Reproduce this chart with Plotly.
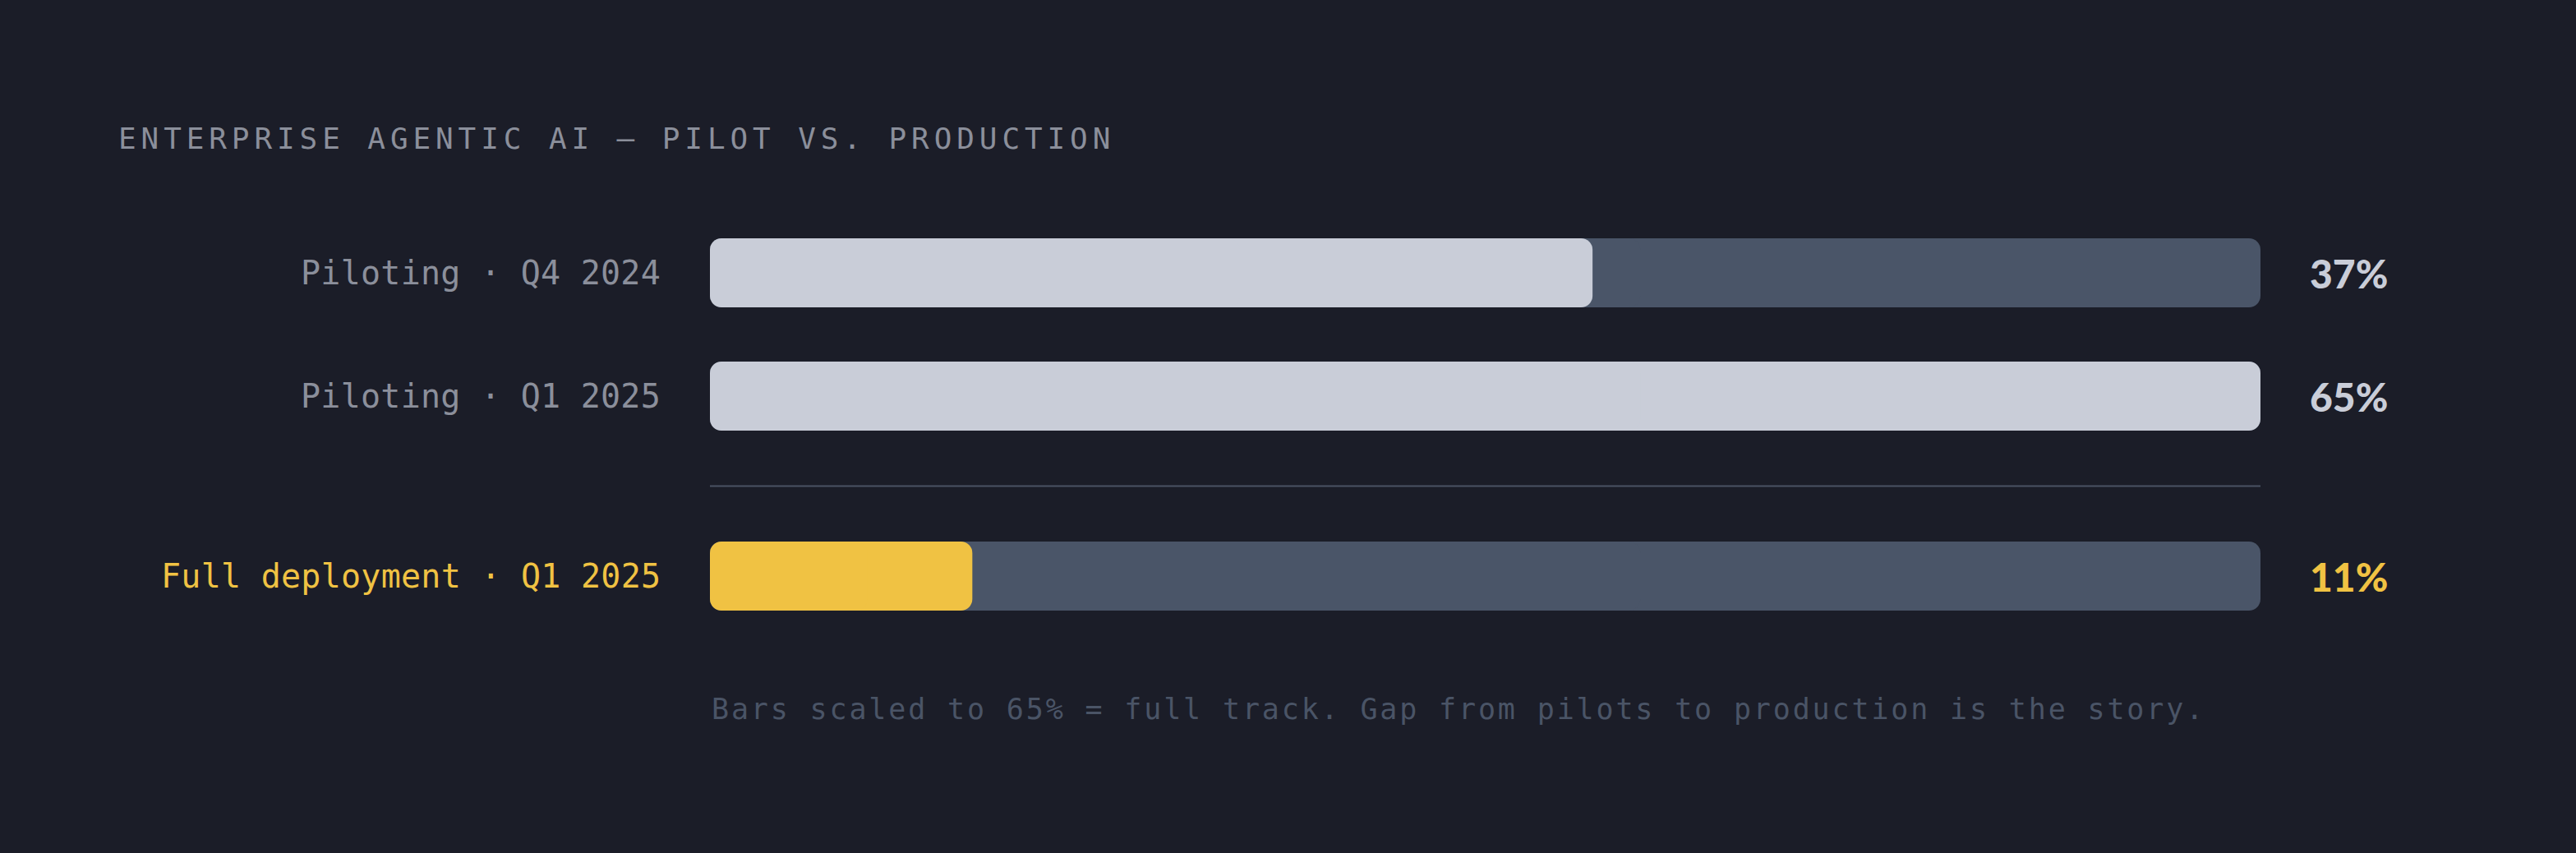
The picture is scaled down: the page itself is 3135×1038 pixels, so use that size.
import plotly.graph_objects as go

# data
labels = ["Piloting · Q4 2024", "Piloting · Q1 2025", "Full deployment · Q1 2025"]
values = [37, 65, 11]
value_text = ["37%", "65%", "11%"]
scale_max = 65  # 65% = full track
title = "ENTERPRISE AGENTIC AI — PILOT VS. PRODUCTION"
note = "Bars scaled to 65% = full track. Gap from pilots to production is the story."

# styling
BG = "#1b1d28"
TRACK = "#4a5568"
LIGHT = "#c9cdd8"
YELLOW = "#f0c243"
GREY = "#8b8f9b"
MONO = "DejaVu Sans Mono, Liberation Mono, monospace"

fill_colors = [LIGHT, LIGHT, YELLOW]
label_colors = [GREY, GREY, YELLOW]
row_y = [0, 1, 2.46]   # row centres (1 unit = 150px)
bar_w = 0.56
sep_y = 1.73


def pill(fig, y, vals, color):
    # two overlapping bars, each rounded at its far end -> rounded on both sides
    fig.add_trace(go.Bar(
        orientation="h", y=y, base=[v * 0.4 for v in vals], x=[v * 0.6 for v in vals],
        width=bar_w, marker=dict(color=color, line=dict(width=0)), hoverinfo="skip",
        showlegend=False))
    fig.add_trace(go.Bar(
        orientation="h", y=y, base=[v * 0.6 for v in vals], x=[-v * 0.6 for v in vals],
        width=bar_w, marker=dict(color=color, line=dict(width=0)), hoverinfo="skip",
        showlegend=False))


fig = go.Figure()
pill(fig, row_y, [scale_max] * len(values), TRACK)
for i, v in enumerate(values):
    pill(fig, [row_y[i]], [v], fill_colors[i])

annotations = []
for i, lab in enumerate(labels):
    annotations.append(dict(
        text=f'<span style="letter-spacing:0.25px">{lab}</span>', xref="paper", x=0,
        xanchor="right", xshift=-58,
        yref="y", y=row_y[i], yanchor="middle", showarrow=False,
        font=dict(family=MONO, size=40, color=label_colors[i])))
    annotations.append(dict(
        text=value_text[i], xref="paper", x=1, xanchor="left", xshift=58,
        yref="y", y=row_y[i], yanchor="middle", showarrow=False,
        font=dict(family="Lato", size=48, color=label_colors[i] if i == 2 else LIGHT, weight=900)))

annotations.append(dict(
    text=f'<span style="letter-spacing:2.85px">{note}</span>', xref="paper", x=0, xanchor="left",
    yref="paper", y=-0.077, yanchor="middle", showarrow=False,
    font=dict(family=MONO, size=35, color="#4a5466")))

fig.update_layout(
    width=3135, height=1038,
    paper_bgcolor=BG, plot_bgcolor=BG,
    margin=dict(l=864, r=384, t=152, b=226),
    barmode="overlay", barcornerradius=14,
    title=dict(
        text=f'<span style="letter-spacing:5.9px">{title}</span>',
        xref="container", x=144 / 3135, xanchor="left",
        yref="container", y=1 - 168 / 1038, yanchor="middle",
        font=dict(family=MONO, size=36, color=GREY)),
    annotations=annotations,
    shapes=[dict(type="line", xref="paper", x0=0, x1=1, yref="y", y0=sep_y, y1=sep_y,
                 line=dict(color="#4a5263", width=2))],
    showlegend=False,
)
fig.update_xaxes(range=[0, scale_max], visible=False, fixedrange=True)
fig.update_yaxes(range=[3.2, -1.2], visible=False, fixedrange=True)

fig.write_html("out.html", config={"displayModeBar": False},
               post_script="document.body.style.margin='0';document.body.style.background='%s';" % BG)
